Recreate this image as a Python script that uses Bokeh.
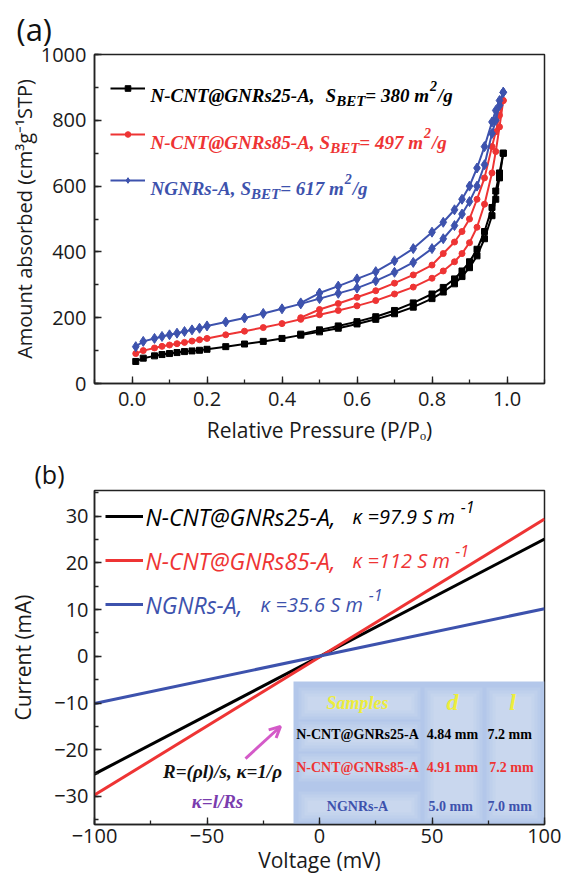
from bokeh.plotting import figure
from bokeh.layouts import column
from bokeh.models import (Range1d, SingleIntervalTicker, PrintfTickFormatter, Label, Arrow,
                          OpenHead, BoxAnnotation, Legend, LegendItem)
from bokeh.embed import file_html
from bokeh.resources import INLINE

# ---------------- data, panel (a): N2 isotherms ----------------
p_ads = [0.01, 0.03, 0.06, 0.08, 0.10, 0.12, 0.14, 0.16, 0.18, 0.20, 0.25, 0.30, 0.35, 0.40,
         0.45, 0.50, 0.55, 0.60, 0.65, 0.70, 0.75, 0.80, 0.83, 0.86, 0.88, 0.90, 0.92, 0.94,
         0.96, 0.97, 0.98, 0.99]
p_des = [0.99, 0.98, 0.97, 0.96, 0.94, 0.92, 0.90, 0.88, 0.86, 0.83, 0.80, 0.75, 0.70, 0.65,
         0.60, 0.55, 0.50, 0.45]

ncnt25_ads = [67, 77, 84, 88, 91, 94, 97, 99, 101, 104, 112, 120, 128, 137, 147, 157, 168, 181,
              195, 212, 232, 258, 278, 303, 325, 352, 388, 440, 510, 560, 625, 700]
ncnt25_des = [700, 640, 585, 535, 462, 408, 370, 342, 318, 292, 272, 245, 222, 203, 188, 175,
              163, 150]

ncnt85_ads = [91, 100, 108, 113, 117, 121, 125, 129, 133, 137, 148, 159, 170, 182, 195, 209, 222,
              236, 252, 272, 293, 320, 342, 370, 395, 428, 475, 545, 640, 705, 780, 860]
ncnt85_des = [860, 815, 765, 720, 625, 560, 500, 462, 430, 395, 360, 330, 305, 282, 262, 243,
              225, 200]

ngnr_ads = [112, 128, 137, 143, 148, 153, 158, 163, 168, 175, 187, 199, 213, 227, 242, 258, 274,
            290, 312, 338, 368, 410, 440, 480, 515, 553, 600, 665, 760, 800, 845, 885]
ngnr_des = [885, 860, 830, 795, 720, 655, 600, 560, 528, 490, 460, 410, 373, 340, 318, 296,
            275, 245]

sbet = ["380", "497", "617"]

# ---------------- data, panel (b): I-V curves ----------------
voltage = [-100, 100]
cur_ncnt25 = [-25.2, 25.1]
cur_ncnt85 = [-29.7, 29.4]
cur_ngnr = [-10.1, 10.2]

kappa = ["97.9", "112", "35.6"]
names = ["N-CNT@GNRs25-A,", "N-CNT@GNRs85-A,", "NGNRs-A,"]
tbl_samples = ["N-CNT@GNRs25-A", "N-CNT@GNRs85-A", "NGNRs-A"]
tbl_d = ["4.84 mm", "4.91 mm", "5.0  mm"]
tbl_l = ["7.2  mm", "7.2 mm", "7.0  mm"]

BLACK = "#000000"
RED = "#ee3434"
BLUE = "#3d52ad"
colors = [BLACK, RED, BLUE]

SANS = "Open Sans"
SERIF = "Liberation Serif"

# Times Bold Italic advance widths (Liberation Serif is metric-compatible)
TBI = {'N': 722, '-': 333, 'C': 667, 'T': 611, '@': 832, 'G': 722, 'R': 667, 's': 389,
       'A': 667, ',': 250, ' ': 250, 'S': 556, 'B': 667, 'E': 667, '=': 570, 'm': 778,
       '/': 278, 'g': 500}
# approximate Open Sans Italic advance widths
OSI = {'κ': 550, ' ': 260, '=': 570, '.': 270, 'S': 550, 'm': 930}


def tw(s, size, table=TBI, default=500):
    return sum(table.get(c, default) for c in s) * size / 1000.0


# pixel -> data helpers for annotation placement (page origin at top-left)
def fx_a(px):
    return -0.1 + (px - 94) / 375.0


def fy_a(py):
    return (382 - py) * 1000.0 / 329.0


def fx_b(px):
    return -100 + (px - 94) * 200.0 / 450.0


def fy_b(py):
    return 35.5 - (py - 487) / 4.671


def style_axes(p, tick_size="20px"):
    for ax in (p.xaxis[0], p.yaxis[0]):
        ax.major_tick_in = 7
        ax.major_tick_out = 0
        ax.minor_tick_in = 4
        ax.minor_tick_out = 0
        ax.axis_line_width = 1.5
        ax.axis_line_color = "#222222"
        ax.major_tick_line_width = 1.3
        ax.minor_tick_line_width = 1.3
        ax.major_tick_line_color = "#222222"
        ax.minor_tick_line_color = "#222222"
        ax.major_label_text_font = SANS
        ax.major_label_text_font_size = tick_size
        ax.major_label_text_color = "#1a1a1a"
        ax.axis_label_text_font = SANS
        ax.axis_label_text_font_style = "normal"
        ax.axis_label_text_color = "#1a1a1a"
    p.xgrid.visible = False
    p.ygrid.visible = False
    p.outline_line_color = "#222222"
    p.outline_line_width = 1.5
    p.background_fill_color = "white"
    p.border_fill_color = "white"
    p.title.text_font = SANS
    p.title.text_font_style = "normal"
    p.title.text_color = "#111111"
    p.title.align = "left"


# ======================= panel (a) =======================
p1 = figure(frame_width=450, frame_height=329, min_border_left=94, min_border_right=17,
            min_border_top=53, min_border_bottom=71,
            x_range=Range1d(-0.1, 1.1), y_range=Range1d(0, 1000),
            output_backend="svg", toolbar_location=None, title="(a)")
style_axes(p1)
p1.title.text_font_size = "31px"
p1.title.offset = -78
p1.title.standoff = 10
p1.xaxis.ticker = SingleIntervalTicker(interval=0.2, num_minor_ticks=2)
p1.xaxis.formatter = PrintfTickFormatter(format="%.1f")
p1.yaxis.ticker = SingleIntervalTicker(interval=200, num_minor_ticks=2)
p1.xaxis.axis_label = "Relative Pressure (P/Pₒ)"
p1.yaxis.axis_label = "Amount absorbed (cm³g⁻¹STP)"
p1.xaxis.axis_label_text_font_size = "21px"
p1.yaxis.axis_label_text_font_size = "20px"
p1.xaxis.major_label_standoff = 8
p1.xaxis.axis_label_standoff = 7
p1.yaxis.major_label_standoff = 8
p1.yaxis.axis_label_standoff = 0

series_a = [
    (ncnt25_ads, ncnt25_des, BLACK, "square", 6),
    (ncnt85_ads, ncnt85_des, RED, "circle", 6),
    (ngnr_ads, ngnr_des, BLUE, "diamond", 10),
]
legend_items_a = []
for ads, des, col, mk, sz in series_a:
    l1 = p1.line(p_ads, ads, line_color=col, line_width=2)
    s1 = p1.scatter(p_ads, ads, marker=mk, size=sz, fill_color=col, line_color=col)
    p1.line(p_des, des, line_color=col, line_width=2)
    p1.scatter(p_des, des, marker=mk, size=sz, fill_color=col, line_color=col)
    legend_items_a.append(LegendItem(label=" ", renderers=[l1, s1]))

leg_a = Legend(items=legend_items_a, location=(16, 196), glyph_width=35, glyph_height=14,
               label_height=14, label_width=1, spacing=32, padding=0, margin=0,
               border_line_color=None, background_fill_alpha=0, label_text_font_size="2px",
               label_standoff=0)
p1.add_layout(leg_a, "center")


def chain(p, pieces, x0, base, color, fx, fy, font=SERIF, style="bold italic"):
    x = x0
    for txt, size, dy, gap in pieces:
        p.add_layout(Label(x=fx(x), y=fy(base + dy), text=txt, text_font=font,
                           text_font_size=f"{size}px", text_font_style=style,
                           text_color=color, text_baseline="alphabetic"))
        x += tw(txt, size) + gap


leg_lines_a = [87, 134, 180]
gaps_a = [11, 5, 5]
for i in range(3):
    base = leg_lines_a[i] + 7
    pieces = [(names[i], 19, 0, gaps_a[i]), ("S", 19, 0, 0), ("BET", 15, 5, 0),
              ("= " + sbet[i] + " m", 19, 0, 1), ("2", 14, -10, 1), ("/g", 19, 0, 0)]
    chain(p1, pieces, 150, base, colors[i], fx_a, fy_a)

# ======================= panel (b) =======================
p2 = figure(frame_width=450, frame_height=334, min_border_left=94, min_border_right=17,
            min_border_top=34, min_border_bottom=60,
            x_range=Range1d(-100, 100), y_range=Range1d(-36, 35.5),
            output_backend="svg", toolbar_location=None, title="(b)")
style_axes(p2)
p2.title.text_font_size = "25px"
p2.title.offset = -60
p2.title.standoff = 0
p2.xaxis.ticker = SingleIntervalTicker(interval=50, num_minor_ticks=2)
p2.yaxis.ticker = SingleIntervalTicker(interval=10, num_minor_ticks=2)
p2.yaxis.axis_label = "Current (mA)"
p2.xaxis.axis_label = "Voltage (mV)"
p2.yaxis.axis_label_text_font_size = "21px"
p2.xaxis.axis_label_text_font_size = "21px"
p2.xaxis.major_label_standoff = 4
p2.xaxis.axis_label_standoff = 0
p2.yaxis.major_label_standoff = 6
p2.yaxis.axis_label_standoff = 14

# inset table background (soft glow behind text cells)
p2.add_layout(BoxAnnotation(left=fx_b(293), right=100, top=fy_b(678), bottom=-36,
                            fill_color="#b3c7ea", fill_alpha=1.0, line_color=None,
                            level="underlay"))
cells = [(298, 420, 684, 716), (298, 420, 718, 748), (298, 420, 750, 778), (298, 420, 788, 818),
         (424, 482, 684, 818), (486, 540, 684, 818)]
for (l, r, t, b) in cells:
    for k in range(4):
        d = 3 * k
        p2.add_layout(BoxAnnotation(left=fx_b(l + d), right=fx_b(r - d), top=fy_b(t + d),
                                    bottom=fy_b(b - d), fill_color="white", fill_alpha=0.09,
                                    line_color=None, level="underlay"))

lines_b = []
for cur, col in zip([cur_ncnt25, cur_ncnt85, cur_ngnr], colors):
    lines_b.append(p2.line(voltage, cur, line_color=col, line_width=3))

leg_b = Legend(items=[LegendItem(label=" ", renderers=[r]) for r in lines_b],
               location=(11, 213), glyph_width=38, glyph_height=14, label_height=14,
               label_width=1, spacing=30, padding=0, margin=0, border_line_color=None,
               background_fill_alpha=0, label_text_font_size="2px", label_standoff=0)
p2.add_layout(leg_b, "center")

leg_y_b = [513, 557, 601]
kx = [352, 352, 260]
for i in range(3):
    y = leg_y_b[i]
    p2.add_layout(Label(x=fx_b(145), y=fy_b(y), text=names[i], text_font=SANS,
                        text_font_size="23px", text_font_style="italic", text_color=colors[i],
                        text_baseline="middle"))
    ktxt = "κ =" + kappa[i] + " S m"
    p2.add_layout(Label(x=fx_b(kx[i]), y=fy_b(y), text=ktxt,
                        text_font=SANS, text_font_size="20px", text_font_style="italic",
                        text_color=colors[i], text_baseline="middle"))
    sx = kx[i] + tw(ktxt, 20, OSI, 570) + 1
    p2.add_layout(Label(x=fx_b(sx), y=fy_b(y - 10), text="-1", text_font=SANS,
                        text_font_size="16px", text_font_style="italic", text_color=colors[i],
                        text_baseline="middle"))

# table text
p2.add_layout(Label(x=fx_b(357), y=fy_b(699), text="Samples", text_font=SERIF,
                    text_font_size="18px", text_font_style="bold italic", text_color="#eded3c",
                    text_align="center", text_baseline="middle"))
p2.add_layout(Label(x=fx_b(452), y=fy_b(698), text="d", text_font=SERIF,
                    text_font_size="24px", text_font_style="bold italic", text_color="#eded3c",
                    text_align="center", text_baseline="middle"))
p2.add_layout(Label(x=fx_b(512), y=fy_b(698), text="l", text_font=SERIF,
                    text_font_size="24px", text_font_style="bold italic", text_color="#eded3c",
                    text_align="center", text_baseline="middle"))
row_y = [731, 764, 803]
for i in range(3):
    for txt, cx in [(tbl_samples[i], 357), (tbl_d[i], 452), (tbl_l[i], 511)]:
        p2.add_layout(Label(x=fx_b(cx), y=fy_b(row_y[i]), text=txt, text_font=SERIF,
                            text_font_size="14px", text_font_style="bold",
                            text_color=colors[i], text_align="center", text_baseline="middle"))

# equations and arrow
p2.add_layout(Label(x=fx_b(222), y=fy_b(768), text="R=(ρl)/s, κ=1/ρ", text_font=SERIF,
                    text_font_size="19px", text_font_style="bold italic", text_color="#111111",
                    text_align="center", text_baseline="middle"))
p2.add_layout(Label(x=fx_b(217), y=fy_b(798), text="κ=l/Rs", text_font=SERIF,
                    text_font_size="19px", text_font_style="bold italic", text_color="#7a3cae",
                    text_align="center", text_baseline="middle"))
ARROW = "#d45ac8"
p2.add_layout(Arrow(end=OpenHead(size=11, line_color=ARROW, line_width=3),
                    x_start=fx_b(245), y_start=fy_b(755), x_end=fx_b(280), y_end=fy_b(723),
                    line_color=ARROW, line_width=3))

layout = column(p1, p2, spacing=0)
open("out.html", "w").write(file_html(layout, INLINE))
